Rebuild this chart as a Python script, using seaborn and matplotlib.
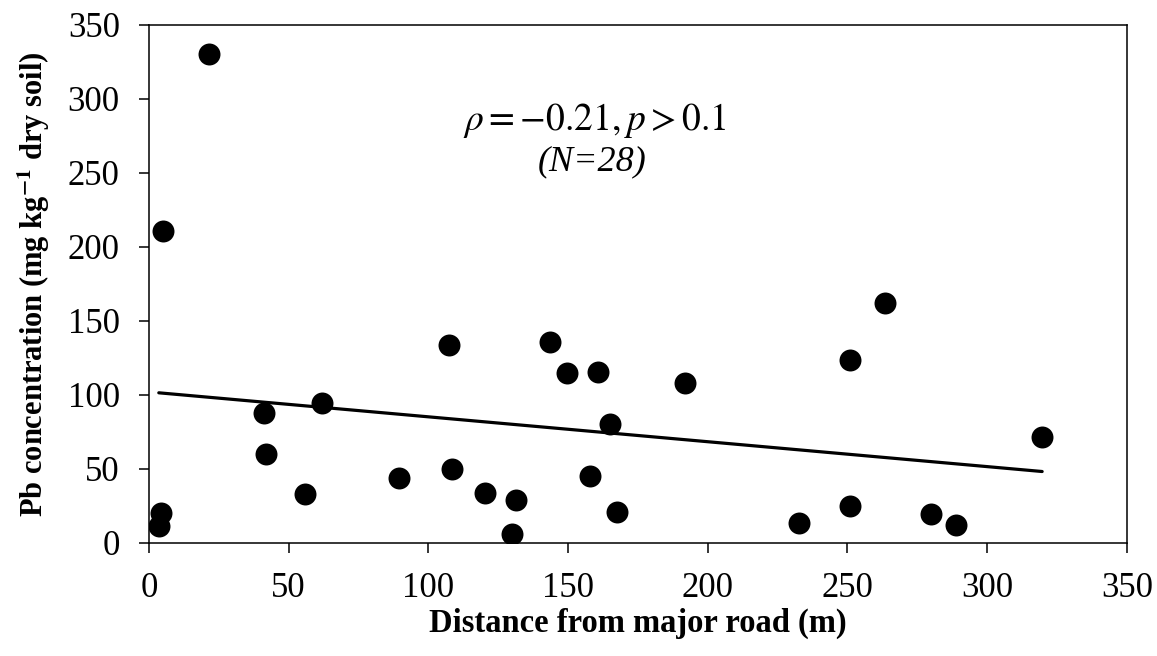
import numpy as np
import pandas as pd
import matplotlib
matplotlib.use("Agg")
import matplotlib.pyplot as plt
import seaborn as sns

# Data
distance_m = [21.4, 4.9, 4.4, 3.5, 41.3, 41.8, 61.8, 55.8,
              89.5, 107.5, 108.4, 120.1, 131.2, 129.8, 143.4, 149.5,
              160.7, 165.0, 157.8, 167.6, 191.8, 232.5, 251.0, 250.8,
              263.4, 280.0, 288.8, 319.7]
pb_conc = [330.4, 211.0, 20.0, 11.5, 88.0, 60.1, 94.4, 32.9,
           43.7, 133.6, 50.2, 33.6, 29.0, 5.9, 135.6, 114.9,
           115.8, 80.6, 45.3, 21.0, 108.1, 13.7, 123.6, 25.0,
           162.4, 19.6, 12.4, 71.8]
x_ticks = [0, 50, 100, 150, 200, 250, 300, 350]
y_ticks = [0, 50, 100, 150, 200, 250, 300, 350]

df = pd.DataFrame({"distance": distance_m, "pb": pb_conc})

sns.set_theme(style="ticks")
plt.rcParams["font.family"] = ["Liberation Serif", "DejaVu Serif"]
plt.rcParams["mathtext.fontset"] = "stix"
plt.rcParams["text.color"] = "black"
plt.rcParams["axes.labelcolor"] = "black"

fig = plt.figure(figsize=(11.57, 6.56), dpi=100)
ax = fig.add_axes([0.1288, 0.1723, 0.8451, 0.7897])

sns.regplot(data=df, x="distance", y="pb", ax=ax, ci=None, truncate=True,
            scatter_kws=dict(s=250, color="black", edgecolor="black", linewidths=0, alpha=1),
            line_kws=dict(color="black", lw=2.3))

ax.set_xlim(0, 350)
ax.set_ylim(0, 350)
ax.set_xticks(x_ticks)
ax.set_yticks(y_ticks)
ax.tick_params(axis="both", direction="out", length=7, width=1.1, labelsize=25,
               colors="black", pad=14)
for sp in ax.spines.values():
    sp.set_visible(True)
    sp.set_color("black")
    sp.set_linewidth(1.1)

ax.set_xlabel("Distance from major road (m)", fontsize=23.5, fontweight="bold",
              labelpad=2, color="black")
ax.set_ylabel("Pb concentration (mg kg$^{\\mathbf{-1}}$ dry soil)", fontsize=22,
              fontweight="bold", labelpad=11, color="black")

ax.text(0.456, 0.815, r"$\rho = -0.21, p > 0.1$", transform=ax.transAxes,
        ha="center", va="center", fontsize=27, color="black")
ax.text(0.453, 0.735, "(N=28)", transform=ax.transAxes, ha="center", va="center",
        fontsize=26, style="italic", color="black")

fig.savefig("out.png", dpi=100)
